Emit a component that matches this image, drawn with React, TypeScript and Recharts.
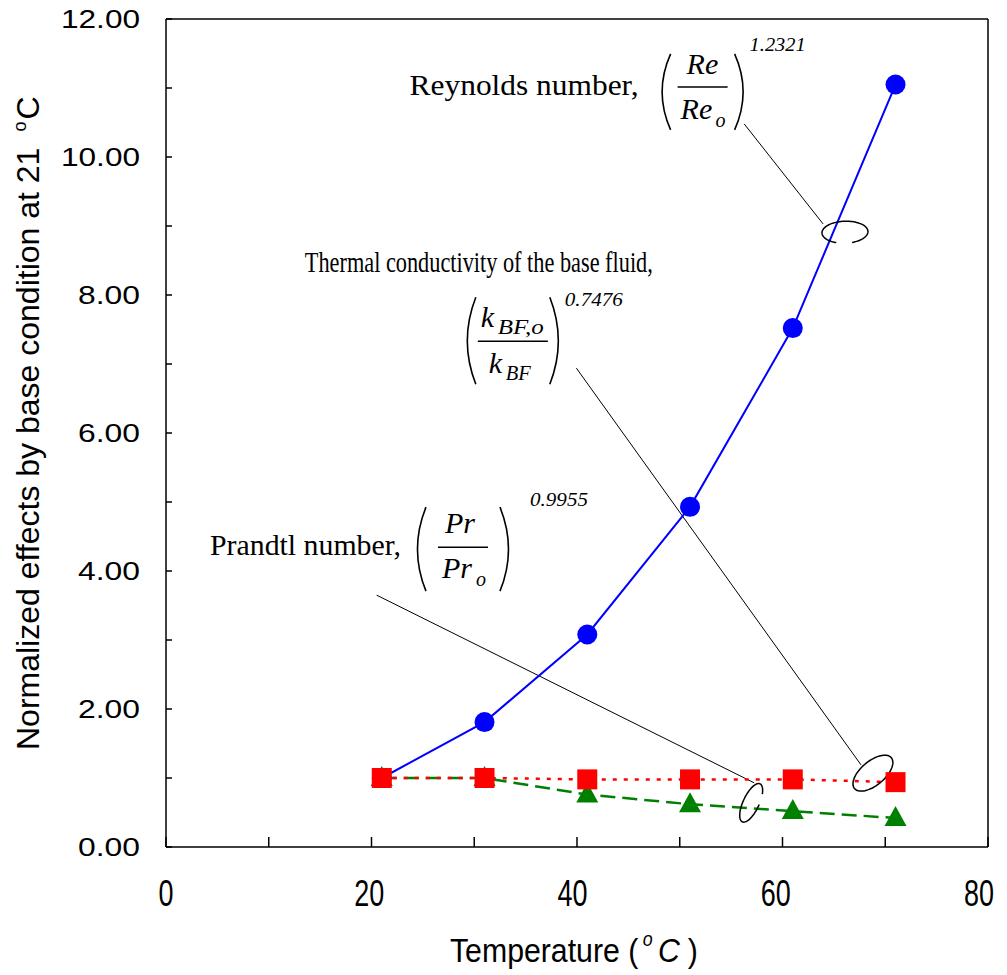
import React from 'react';
import { ComposedChart, Line, XAxis, YAxis, ReferenceLine, ReferenceDot } from 'recharts';

// temperatures (deg C) and normalized effects
const temps = [21, 31, 41, 51, 61, 71];
const reynolds = [1.0, 1.81, 3.08, 4.93, 7.52, 11.05];
const conductivity = [1.0, 1.0, 0.98, 0.98, 0.98, 0.94];
const prandtl = [1.0, 1.0, 0.76, 0.62, 0.52, 0.42];

const xTicks = [0, 10, 20, 30, 40, 50, 60, 70, 80];
const xLabels = [0, 20, 40, 60, 80];
const yTicks = [0, 1, 2, 3, 4, 5, 6, 7, 8, 9, 10, 11, 12];
const yLabels = [0, 2, 4, 6, 8, 10, 12];

const data = temps.map((t, i) => ({ t, re: reynolds[i], k: conductivity[i], pr: prandtl[i] }));

const SANS = "'Liberation Sans', Arial, sans-serif";
const SERIF = "'Liberation Serif', 'Times New Roman', serif";

const XTick = ({ x, y, payload }: any) => {
  if (!xLabels.includes(payload.value)) return null;
  const s = String(payload.value);
  const w = s.length * 15;
  // labels sit a little left of their ticks in the original, more so towards the right
  const shift = (payload.value / 80) * 9;
  return (
    <text x={x - w / 2 - shift} y={y + 13} fontFamily={SANS} fontSize={36} fill="#000"
      textLength={w} lengthAdjust="spacingAndGlyphs">{s}</text>
  );
};

const YTick = ({ x, y, payload }: any) => {
  if (!yLabels.includes(payload.value)) return null;
  const s = payload.value.toFixed(2);
  const w = s.length === 5 ? 79 : 62;
  return (
    <text x={x - w} y={y + 9} fontFamily={SANS} fontSize={25} fill="#000"
      textLength={w} lengthAdjust="spacingAndGlyphs">{s}</text>
  );
};

const YTitle = () => (
  <text transform="translate(39,750) rotate(-90)" x={0} y={0} fontFamily={SANS} fontSize={32} fill="#000">
    Normalized effects by base condition at 21
    <tspan dx={16} dy={-13} fontSize={18}>o</tspan>
    <tspan dx={2} dy={13}>C</tspan>
  </text>
);

const XTitle = () => (
  <text transform="translate(450,962) scale(0.89,1)" x={0} y={0} fontFamily={SANS} fontSize={34} fill="#000">
    Temperature (
    <tspan dx={5} dy={-16} fontSize={20} fontStyle="italic">o</tspan>
    <tspan dx={6} dy={16} fontStyle="italic">C</tspan>
    <tspan dx={9}>)</tspan>
  </text>
);

const Circle = ({ cx, cy }: any) => <circle cx={cx} cy={cy} r={10} fill="#0000ff" />;
const Square = ({ cx, cy }: any) => <rect x={cx - 10} y={cy - 10} width={20} height={20} fill="#ff0000" />;
const Triangle = ({ cx, cy }: any) => (
  <path d={`M${cx},${cy - 12} L${cx + 11},${cy + 8} L${cx - 11},${cy + 8} Z`} fill="#008000" />
);

// open ellipse outline used to tie a leader line to a curve
const ellipseShape = (rx: number, ry: number, rot: number, gapFrom = 0, gapTo = 0) => ({ cx, cy }: any) => {
  const pts: string[] = [];
  const r = (rot * Math.PI) / 180;
  for (let a = gapTo; a <= gapFrom + 360; a += 4) {
    const t = (a * Math.PI) / 180;
    const ex = rx * Math.cos(t);
    const ey = ry * Math.sin(t);
    pts.push(`${(cx + ex * Math.cos(r) - ey * Math.sin(r)).toFixed(1)},${(cy + ex * Math.sin(r) + ey * Math.cos(r)).toFixed(1)}`);
  }
  return <path d={`M${pts.join(' L')}`} fill="none" stroke="#000" strokeWidth={1.5} />;
};

// big round brackets around a fraction
const Parens = ({ x, w, top, bot }: { x: number; w: number; top: number; bot: number }) => (
  <g fill="none" stroke="#000" strokeWidth={1.6}>
    <path d={`M${x + 13},${top} Q${x - 4},${(top + bot) / 2} ${x + 13},${bot}`} />
    <path d={`M${x + w - 13},${top} Q${x + w + 4},${(top + bot) / 2} ${x + w - 13},${bot}`} />
  </g>
);

const ReynoldsLabel = ({ cx, cy }: any) => (
  <g transform={`translate(${cx},${cy})`} fontFamily={SERIF} fill="#000">
    <text x={0} y={0} fontSize={30} textLength={229} lengthAdjust="spacingAndGlyphs">Reynolds number,</text>
    <Parens x={248} w={90} top={-41} bot={35} />
    <text x={277} y={-21} fontSize={30} fontStyle="italic">Re</text>
    <line x1={268} x2={318} y1={-8} y2={-8} stroke="#000" strokeWidth={1.5} />
    <text x={271} y={24} fontSize={30} fontStyle="italic">Re</text>
    <text x={306} y={32} fontSize={20} fontStyle="italic">o</text>
    <text x={340} y={-44} fontSize={19} fontStyle="italic" textLength={56} lengthAdjust="spacingAndGlyphs">1.2321</text>
  </g>
);

const ThermalLabel = ({ cx, cy }: any) => (
  <g transform={`translate(${cx},${cy})`} fontFamily={SERIF} fill="#000">
    <text x={0} y={0} fontSize={30} textLength={348} lengthAdjust="spacingAndGlyphs">Thermal conductivity of the base fluid,</text>
    <Parens x={158} w={100} top={25} bot={112} />
    <text x={176} y={55} fontSize={30} fontStyle="italic">k</text>
    <text x={193} y={62} fontSize={20} fontStyle="italic" textLength={46} lengthAdjust="spacingAndGlyphs">BF,o</text>
    <line x1={173} x2={243} y1={69} y2={69} stroke="#000" strokeWidth={1.5} />
    <text x={184} y={101} fontSize={30} fontStyle="italic">k</text>
    <text x={201} y={108} fontSize={20} fontStyle="italic" textLength={25} lengthAdjust="spacingAndGlyphs">BF</text>
    <text x={260} y={34} fontSize={19} fontStyle="italic" textLength={58} lengthAdjust="spacingAndGlyphs">0.7476</text>
  </g>
);

const PrandtlLabel = ({ cx, cy }: any) => (
  <g transform={`translate(${cx},${cy})`} fontFamily={SERIF} fill="#000">
    <text x={0} y={0} fontSize={30} textLength={191} lengthAdjust="spacingAndGlyphs">Prandtl number,</text>
    <Parens x={203} w={100} top={-48} bot={36} />
    <text x={235} y={-22} fontSize={30} fontStyle="italic">Pr</text>
    <line x1={228} x2={278} y1={-8} y2={-8} stroke="#000" strokeWidth={1.5} />
    <text x={232} y={23} fontSize={30} fontStyle="italic">Pr</text>
    <text x={266} y={31} fontSize={20} fontStyle="italic">o</text>
    <text x={320} y={-49} fontSize={19} fontStyle="italic" textLength={58} lengthAdjust="spacingAndGlyphs">0.9955</text>
  </g>
);

export default function App() {
  return (
    <div style={{ position: 'absolute', left: 0, top: 0, width: 1007, height: 975, overflow: 'hidden', background: '#fff' }}>
      <ComposedChart width={1007} height={975} data={data} margin={{ top: 19, right: 19, left: 0, bottom: 0 }}>
        <XAxis
          type="number"
          dataKey="t"
          domain={[0, 80]}
          ticks={xTicks}
          interval={0}
          tickSize={-10}
          tickMargin={56}
          height={128}
          stroke="#000"
          strokeWidth={1.5}
          tick={<XTick />}
          label={{ content: () => <XTitle /> }}
        />
        <YAxis
          type="number"
          domain={[0, 12]}
          ticks={yTicks}
          interval={0}
          tickSize={-6}
          tickMargin={32}
          width={166}
          stroke="#000"
          strokeWidth={1.5}
          tick={<YTick />}
          label={{ content: () => <YTitle /> }}
        />
        <ReferenceLine y={12} stroke="#000" strokeWidth={1.5} />
        <ReferenceLine x={80} stroke="#000" strokeWidth={1.5} />

        <ReferenceLine segment={[{ x: 56.27, y: 10.48 }, { x: 63.95, y: 9.03 }]} stroke="#000" strokeWidth={1} />
        <ReferenceLine segment={[{ x: 39.94, y: 6.94 }, { x: 67.64, y: 1.19 }]} stroke="#000" strokeWidth={1} />
        <ReferenceLine segment={[{ x: 20.5, y: 3.65 }, { x: 57.24, y: 0.93 }]} stroke="#000" strokeWidth={1} />

        <ReferenceDot x={66.08} y={8.91} r={0} shape={ellipseShape(23, 11, -2, 75, 113)} />
        <ReferenceDot x={68.8} y={1.07} r={0} shape={ellipseShape(24, 12, -40)} />
        <ReferenceDot x={56.95} y={0.64} r={0} shape={ellipseShape(21, 8, -65, 55, 85)} />

        <ReferenceDot x={23.71} y={10.9} r={0} shape={ReynoldsLabel} />
        <ReferenceDot x={13.51} y={8.33} r={0} shape={ThermalLabel} />
        <ReferenceDot x={4.28} y={4.23} r={0} shape={PrandtlLabel} />

        <Line dataKey="re" stroke="#0000ff" strokeWidth={2} dot={<Circle />} isAnimationActive={false} />
        <Line dataKey="pr" stroke="#008000" strokeWidth={2.5} strokeDasharray="15 7" dot={<Triangle />} isAnimationActive={false} />
        <Line dataKey="k" stroke="#ff0000" strokeWidth={2.5} strokeDasharray="4 7" dot={<Square />} isAnimationActive={false} />
      </ComposedChart>
    </div>
  );
}
